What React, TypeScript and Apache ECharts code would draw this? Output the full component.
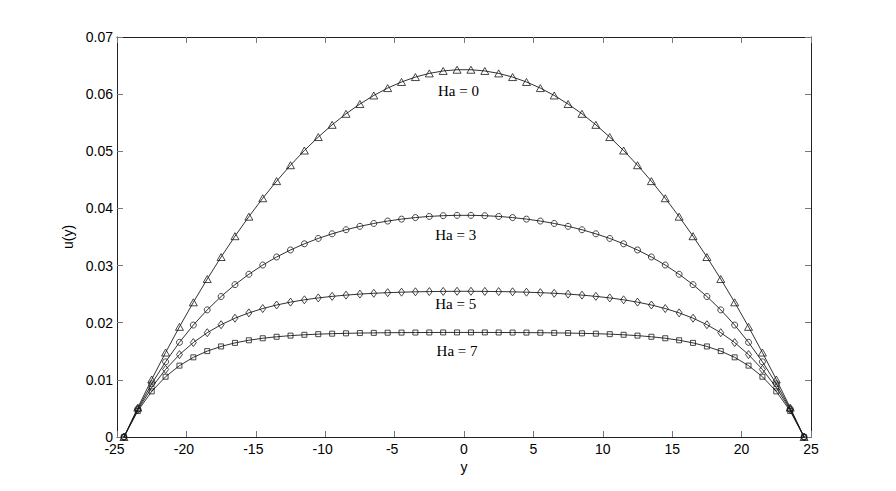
import React, { useEffect, useRef } from "react";
import * as echarts from "echarts";

const yPositions = [
  -24.5, -23.5, -22.5, -21.5, -20.5, -19.5, -18.5, -17.5, -16.5, -15.5,
  -14.5, -13.5, -12.5, -11.5, -10.5, -9.5, -8.5, -7.5, -6.5, -5.5,
  -4.5, -3.5, -2.5, -1.5, -0.5, 0.5, 1.5, 2.5, 3.5, 4.5,
  5.5, 6.5, 7.5, 8.5, 9.5, 10.5, 11.5, 12.5, 13.5, 14.5,
  15.5, 16.5, 17.5, 18.5, 19.5, 20.5, 21.5, 22.5, 23.5, 24.5,
];

const ha0 = [
  0, 0.00514, 0.01007, 0.01478, 0.01928, 0.02357, 0.02764, 0.0315, 0.03514, 0.03856,
  0.04178, 0.04478, 0.04756, 0.05013, 0.05249, 0.05463, 0.05656, 0.05827, 0.05977, 0.06106,
  0.06213, 0.06299, 0.06363, 0.06406, 0.06427, 0.06427, 0.06406, 0.06363, 0.06299, 0.06213,
  0.06106, 0.05977, 0.05827, 0.05656, 0.05463, 0.05249, 0.05013, 0.04756, 0.04478, 0.04178,
  0.03856, 0.03514, 0.0315, 0.02764, 0.02357, 0.01928, 0.01478, 0.01007, 0.00514, 0,
];

const ha3 = [
  0, 0.00494, 0.00931, 0.01316, 0.01657, 0.01959, 0.02225, 0.02459, 0.02666, 0.02848,
  0.03009, 0.0315, 0.03273, 0.03381, 0.03475, 0.03556, 0.03627, 0.03687, 0.03737, 0.03779,
  0.03813, 0.0384, 0.0386, 0.03873, 0.03879, 0.03879, 0.03873, 0.0386, 0.0384, 0.03813,
  0.03779, 0.03737, 0.03687, 0.03627, 0.03556, 0.03475, 0.03381, 0.03273, 0.0315, 0.03009,
  0.02848, 0.02666, 0.02459, 0.02225, 0.01959, 0.01657, 0.01316, 0.00931, 0.00494, 0,
];

const ha5 = [
  0, 0.00477, 0.00866, 0.01183, 0.01442, 0.01653, 0.01825, 0.01965, 0.02079, 0.02172,
  0.02248, 0.0231, 0.0236, 0.02401, 0.02434, 0.02461, 0.02483, 0.02501, 0.02515, 0.02526,
  0.02534, 0.02541, 0.02545, 0.02548, 0.0255, 0.0255, 0.02548, 0.02545, 0.02541, 0.02534,
  0.02526, 0.02515, 0.02501, 0.02483, 0.02461, 0.02434, 0.02401, 0.0236, 0.0231, 0.02248,
  0.02172, 0.02079, 0.01965, 0.01825, 0.01653, 0.01442, 0.01183, 0.00866, 0.00477, 0,
];

const ha7 = [
  0, 0.00456, 0.00798, 0.01055, 0.01249, 0.01394, 0.01503, 0.01585, 0.01647, 0.01693,
  0.01728, 0.01754, 0.01774, 0.01789, 0.018, 0.01808, 0.01814, 0.01819, 0.01822, 0.01825,
  0.01827, 0.01828, 0.01829, 0.0183, 0.0183, 0.0183, 0.0183, 0.01829, 0.01828, 0.01827,
  0.01825, 0.01822, 0.01819, 0.01814, 0.01808, 0.018, 0.01789, 0.01774, 0.01754, 0.01728,
  0.01693, 0.01647, 0.01585, 0.01503, 0.01394, 0.01249, 0.01055, 0.00798, 0.00456, 0,
];

const seriesNames = ["Ha = 0", "Ha = 3", "Ha = 5", "Ha = 7"];
const seriesValues = [ha0, ha3, ha5, ha7];
const seriesSymbols = ["triangle", "circle", "diamond", "rect"];
const symbolSizes: any[] = [[8, 7], 6, [6, 8], 5];

// annotation anchors in data coordinates [y, u]
const labelAnchors = [
  [-0.4, 0.0605],
  [-0.6, 0.0354],
  [-0.6, 0.0233],
  [-0.5, 0.0150],
];

const xTicks = { min: -25, max: 25, interval: 5 };
const yTicks = { min: 0, max: 0.07, interval: 0.01 };

const LINE = "#1a1a1a";
const AXIS = "#222";
const TICK = "#777";
const SANS = "'Liberation Sans', Arial, Helvetica, sans-serif";
const SERIF = "'Liberation Serif', 'Times New Roman', serif";

export default function App() {
  const ref = useRef<HTMLDivElement>(null);

  useEffect(() => {
    if (!ref.current) return;
    const chart = echarts.init(ref.current, undefined, { renderer: "svg" });

    const axisCommon = {
      type: "value" as const,
      splitLine: { show: false },
      axisLine: { show: true, onZero: false, lineStyle: { color: AXIS, width: 1 } },
      axisTick: { show: true, inside: true, length: 6, lineStyle: { color: TICK, width: 1 } },
    };

    const labelText = { fontFamily: SANS, fontSize: 14, lineHeight: 11, color: "#000" };

    const option: any = {
      animation: false,
      backgroundColor: "#fff",
      grid: { left: 117, right: 85, top: 37, bottom: 54, containLabel: false },
      xAxis: [
        {
          ...axisCommon,
          position: "bottom",
          min: xTicks.min,
          max: xTicks.max,
          interval: xTicks.interval,
          name: "y",
          nameLocation: "middle",
          nameGap: 18,
          nameTextStyle: { fontFamily: SANS, fontSize: 14, color: "#000" },
          axisLabel: {
            ...labelText,
            margin: 6,
            formatter: (v: number) => (v < 0 ? `{neg|${v}}` : `{pos|${v}}`),
            rich: {
              neg: { ...labelText, padding: [0, 5, 0, 0] },
              pos: { ...labelText },
            },
          },
        },
        {
          ...axisCommon,
          position: "top",
          min: xTicks.min,
          max: xTicks.max,
          interval: xTicks.interval,
          axisLabel: { show: false },
        },
      ],
      yAxis: [
        {
          ...axisCommon,
          position: "left",
          min: yTicks.min,
          max: yTicks.max,
          interval: yTicks.interval,
          name: "u(y)",
          nameLocation: "middle",
          nameRotate: 90,
          nameGap: 33,
          nameTextStyle: { fontFamily: SANS, fontSize: 14, color: "#000" },
          axisLabel: {
            ...labelText,
            margin: 4,
            formatter: (v: number) => (Math.abs(v) < 1e-12 ? "0" : v.toFixed(2)),
          },
        },
        {
          ...axisCommon,
          position: "right",
          min: yTicks.min,
          max: yTicks.max,
          interval: yTicks.interval,
          axisLabel: { show: false },
        },
      ],
      series: seriesValues.map((vals, i) => ({
        name: seriesNames[i],
        type: "line",
        xAxisIndex: 0,
        yAxisIndex: 0,
        data: yPositions.map((p, j) => [p, vals[j]]),
        symbol: seriesSymbols[i],
        symbolSize: symbolSizes[i],
        showSymbol: true,
        showAllSymbol: true,
        lineStyle: { color: LINE, width: 0.9 },
        itemStyle: { color: "rgba(255,255,255,0)", borderColor: LINE, borderWidth: 0.8 },
        emphasis: { disabled: true },
        z: 2,
      })),
    };

    chart.setOption(option);

    const graphics = labelAnchors.map((a, i) => {
      const [px, py] = chart.convertToPixel({ xAxisIndex: 0, yAxisIndex: 0 }, a) as number[];
      return {
        type: "text",
        x: px,
        y: py,
        z: 10,
        style: {
          text: seriesNames[i],
          fontFamily: SERIF,
          fontSize: 15,
          fill: "#000",
          align: "center",
          verticalAlign: "middle",
        },
      };
    });
    chart.setOption({ graphic: graphics });

    return () => chart.dispose();
  }, []);

  return (
    <div
      ref={ref}
      style={{ position: "fixed", left: 0, top: 0, width: 896, height: 491, background: "#fff" }}
    />
  );
}
